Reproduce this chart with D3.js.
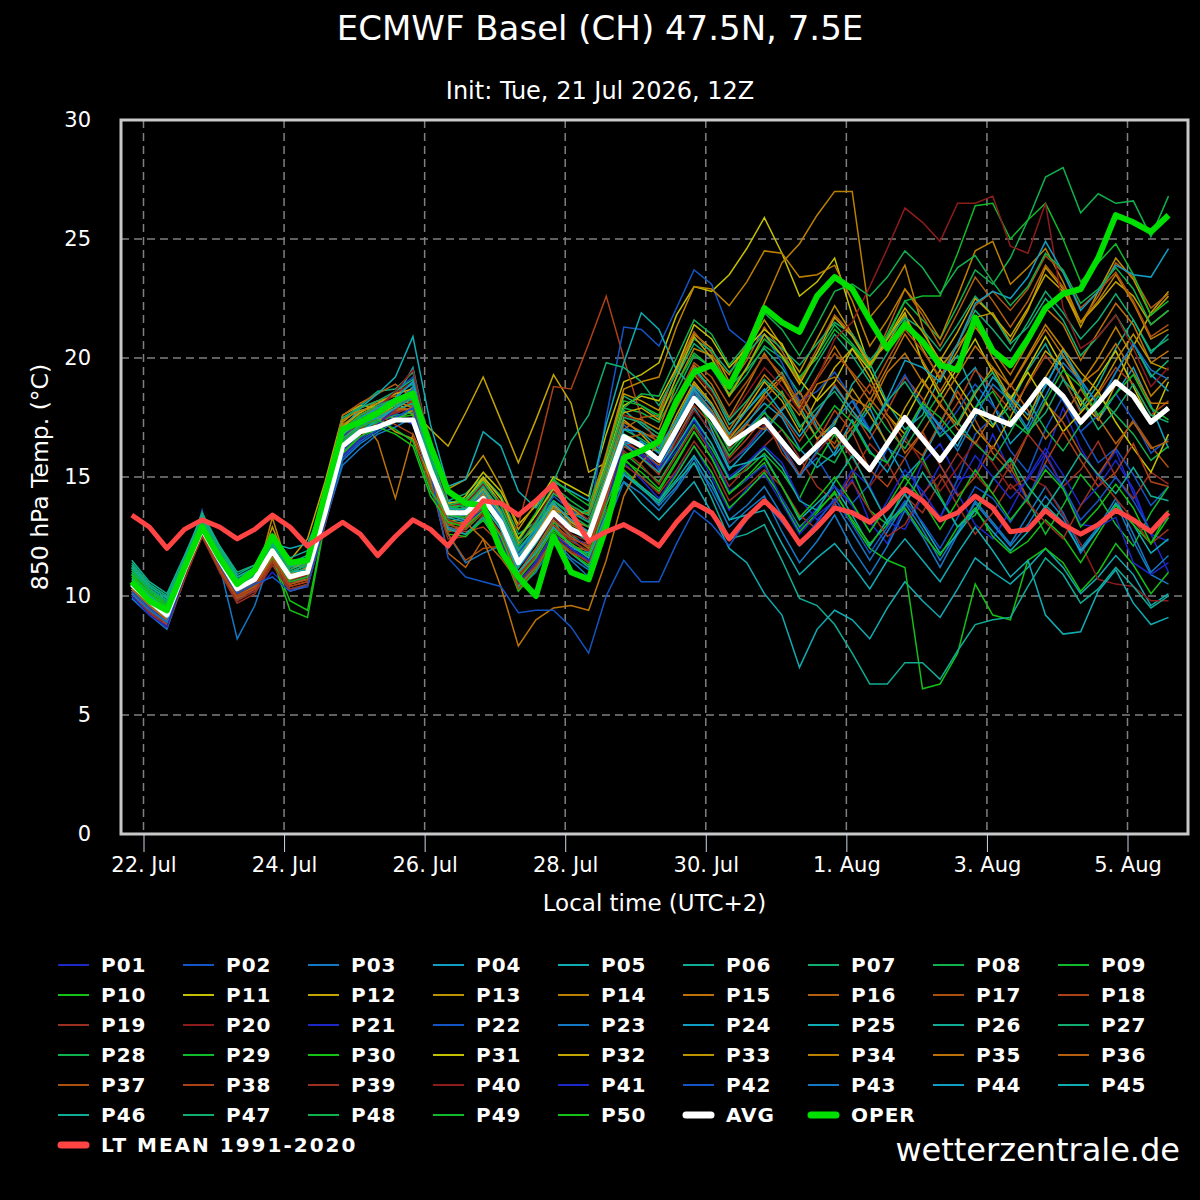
<!DOCTYPE html>
<html>
<head>
<meta charset="utf-8">
<script src="https://cdn.jsdelivr.net/npm/d3@7"></script>
<style>
  body { margin: 0; background: #000; }
  text { font-family: "DejaVu Sans", "Liberation Sans", sans-serif; fill: #fff; }
</style>
</head>
<body>
<div id="chart"></div>
<script>
// Forecast steps: every 6 hours, local time (UTC+2), starting 21 Jul 20:00
const startTime = Date.UTC(2026, 6, 21, 20);
const stepHours = d3.range(0, 360, 6);

// x axis ticks (local days)
const tickDates = [
    Date.UTC(2026, 6, 22), Date.UTC(2026, 6, 24), Date.UTC(2026, 6, 26), Date.UTC(2026, 6, 28),
    Date.UTC(2026, 6, 30), Date.UTC(2026, 7, 1), Date.UTC(2026, 7, 3), Date.UTC(2026, 7, 5)
].map(t => new Date(t));
const yTicks = [0, 5, 10, 15, 20, 25, 30];

// Ensemble mean
const avg = [10.5,9.8,9.2,11.1,12.8,11.5,10.3,10.7,11.9,10.8,
    11.0,13.5,16.3,16.9,17.1,17.4,17.4,15.3,13.5,13.5,
    14.1,13.1,11.4,12.4,13.5,12.8,12.5,14.6,16.7,16.3,
    15.7,17.0,18.3,17.5,16.4,16.9,17.4,16.5,15.6,16.3,
    17.0,16.1,15.3,16.4,17.5,16.6,15.7,16.7,17.8,17.5,
    17.2,18.1,19.1,18.4,17.3,18.1,19.0,18.4,17.3,17.9];

// Operational run
const oper = [10.6,9.8,9.4,11.2,12.9,11.6,10.5,11.1,12.5,11.4,
    11.5,14.3,17.0,17.3,17.7,18.2,18.5,16.3,14.4,13.9,
    13.8,11.9,10.8,10.0,12.5,11.0,10.7,12.9,15.8,16.1,
    16.5,18.2,19.4,19.7,18.8,20.3,22.1,21.5,21.1,22.6,
    23.4,22.9,21.6,20.4,21.4,20.7,19.7,19.5,21.7,20.3,
    19.7,20.8,22.1,22.7,22.9,24.2,26.0,25.7,25.3,26.0];

// Long-term mean 1991-2020
const ltMean = [13.4,12.9,12.0,12.8,13.2,12.9,12.4,12.8,13.4,12.9,
    12.1,12.6,13.1,12.6,11.7,12.5,13.2,12.8,12.1,13.1,
    14.0,13.9,13.4,14.0,14.7,13.5,12.3,12.7,13.0,12.6,
    12.1,13.1,13.9,13.5,12.4,13.3,14.0,13.3,12.2,12.9,
    13.7,13.5,13.1,13.7,14.5,14.0,13.2,13.5,14.2,13.7,
    12.7,12.8,13.6,13.0,12.6,13.0,13.6,13.2,12.7,13.5];

// Ensemble members P01..P50
const members = [
    [10.0,9.3,8.9,10.8,12.6,11.2,10.0,10.2,11.0,10.3,10.4,13.0,15.8,16.5,17.0,17.6,18.2,15.0,12.8,12.6,13.2,12.5,10.8,11.5,12.6,12.0,11.4,13.8,15.6,14.9,14.1,15.2,16.3,15.0,13.6,14.5,15.1,13.9,12.6,13.4,14.0,14.9,13.1,12.2,13.8,15.6,16.4,14.9,15.1,16.8,15.2,14.0,15.9,17.9,16.2,15.0,16.1,14.3,12.6,11.0],
    [10.2,9.5,8.8,10.9,13.6,11.0,9.8,10.4,11.7,10.5,10.8,13.6,16.4,17.2,17.8,18.0,18.4,15.6,13.2,13.0,14.0,13.0,11.2,12.2,13.4,12.4,11.8,14.5,17.2,16.5,15.3,16.8,18.5,17.4,15.6,16.2,17.1,16.4,15.1,15.8,14.6,13.9,14.7,16.2,15.8,14.1,13.3,14.9,16.8,17.5,16.1,15.2,17.0,18.4,16.9,15.6,16.2,15.1,13.8,14.6],
    [9.9,9.2,8.6,10.7,12.9,11.3,8.2,9.6,11.8,10.2,10.5,13.1,15.5,16.2,16.8,17.1,17.5,14.5,12.6,11.4,11.8,12.1,10.5,11.2,12.4,11.6,11.1,13.3,15.2,14.6,13.8,14.6,15.8,14.4,12.9,13.6,14.2,12.7,11.4,12.3,13.4,12.0,10.9,12.1,13.6,12.5,11.2,12.6,14.0,13.1,12.2,13.4,14.6,13.5,12.0,12.9,14.1,12.6,11.0,11.7],
    [10.4,9.7,9.1,11.0,12.6,11.4,10.6,10.9,12.2,11.0,11.3,13.9,16.6,17.4,17.6,18.1,18.8,16.0,13.9,13.7,14.6,13.6,11.9,12.7,13.9,13.1,12.6,14.9,16.8,16.2,15.4,16.6,17.9,16.8,15.3,16.1,16.9,17.8,18.6,17.1,15.9,16.8,17.9,16.3,15.0,15.8,17.2,18.8,19.6,18.1,16.4,17.2,18.9,20.1,19.0,17.4,18.5,19.6,18.0,16.2],
    [11.0,10.3,9.8,11.4,12.9,11.8,10.5,10.8,12.2,11.3,11.2,13.4,16.0,16.8,17.5,18.3,19.6,16.2,13.8,13.4,14.2,13.3,11.7,12.5,13.2,12.0,11.8,13.6,14.8,13.9,13.2,14.0,14.8,13.5,12.0,11.4,10.1,9.2,7.0,8.6,9.4,9.0,8.2,9.5,10.6,9.8,9.1,10.3,11.6,11.0,10.5,11.2,12.0,11.2,10.1,10.8,11.7,10.9,9.6,10.1],
    [11.3,10.4,9.9,11.6,13.3,12.0,10.8,11.2,12.5,11.4,11.7,14.2,17.1,17.8,18.0,18.5,18.9,15.8,13.7,13.9,14.8,13.8,12.2,13.0,14.4,13.6,13.2,15.6,17.8,17.2,16.6,18.1,19.6,18.7,17.2,17.8,18.6,19.4,18.0,16.6,17.2,18.9,19.8,18.1,17.0,17.6,19.2,20.1,18.4,17.2,18.0,19.5,20.6,19.1,17.8,18.9,20.4,21.6,20.2,21.0],
    [11.4,10.5,10.0,11.5,13.5,12.1,11.0,11.3,12.4,11.2,11.4,14.0,17.4,18.0,18.6,18.7,19.4,16.2,14.0,14.3,15.0,14.2,12.6,13.1,14.0,13.4,13.6,15.8,18.4,18.0,17.5,19.2,20.6,20.0,18.8,19.5,20.4,19.6,18.5,19.8,21.0,20.1,19.0,20.2,21.6,20.7,19.5,20.6,22.0,21.2,20.3,21.5,22.8,21.9,20.8,21.6,22.7,21.6,20.3,20.8],
    [11.2,10.2,9.7,11.3,13.1,11.8,10.6,11.0,12.1,11.0,11.3,13.7,16.8,17.4,17.8,18.1,18.3,15.9,13.9,14.1,14.9,13.9,12.3,13.4,14.6,14.0,13.5,15.4,17.9,17.7,17.3,18.6,20.1,19.6,18.4,19.3,20.5,20.0,19.1,20.2,21.4,20.6,19.7,21.0,22.4,21.6,20.8,22.2,23.7,23.1,24.2,25.8,27.6,28.0,26.1,26.9,26.5,26.6,25.1,26.8],
    [10.9,10.0,9.5,11.2,12.9,11.7,10.4,10.6,11.8,10.6,10.9,13.4,16.1,16.7,17.0,17.4,17.9,15.1,13.2,13.0,13.6,12.6,10.9,11.9,13.1,12.6,12.0,14.1,16.0,15.4,14.8,16.0,17.2,16.2,14.9,15.3,16.0,15.2,14.1,15.6,16.8,15.3,13.6,13.0,14.6,15.8,14.2,12.9,13.4,14.9,15.7,14.0,12.6,13.8,15.1,14.2,13.0,12.1,13.5,14.6],
    [11.1,10.3,9.6,11.3,13.0,11.6,10.2,10.5,11.6,9.4,9.1,13.1,15.9,16.6,17.3,17.8,18.1,15.3,13.0,12.8,13.5,12.3,10.4,11.3,12.7,12.2,11.6,13.9,15.8,15.0,14.4,15.6,16.9,15.8,14.3,14.9,15.6,14.0,12.7,13.5,14.4,13.1,12.0,11.5,11.2,6.1,6.3,7.6,10.5,9.2,9.0,11.5,12.0,11.4,10.2,11.0,12.2,11.3,10.1,11.0],
    [10.6,9.9,9.3,11.2,12.9,11.6,10.4,10.9,12.0,10.9,11.2,14.0,17.0,17.6,18.0,18.2,17.6,15.2,13.6,14.2,15.2,14.4,13.0,13.8,15.0,14.6,14.2,16.8,19.0,19.3,19.8,21.8,23.0,22.8,23.5,24.6,25.9,24.4,22.6,23.2,24.2,21.8,19.6,20.8,21.9,19.8,18.4,19.6,20.8,19.4,18.2,19.6,20.9,19.6,18.0,19.2,20.3,18.8,17.3,19.0],
    [10.7,10.0,9.4,11.3,13.0,11.7,10.6,11.0,12.3,11.5,12.4,14.8,17.6,18.0,17.9,17.4,17.8,17.0,16.3,17.7,19.2,17.4,15.6,17.4,19.3,18.1,15.2,15.6,17.4,16.8,16.0,17.6,19.0,18.1,16.8,17.9,19.0,18.2,16.9,18.3,19.6,20.4,19.2,17.6,16.8,18.1,19.5,18.3,17.0,16.2,17.5,19.0,20.3,19.6,18.2,17.4,18.9,20.5,21.9,22.8],
    [10.3,9.6,9.0,10.9,12.6,11.5,10.4,10.8,12.9,11.1,11.5,14.5,17.3,17.9,18.2,18.0,18.6,16.4,14.5,14.9,15.9,14.6,12.8,13.9,14.7,13.7,13.2,15.9,18.5,18.2,17.8,19.5,21.0,20.4,19.0,20.3,21.6,20.5,19.4,20.8,22.2,21.0,19.8,20.6,21.8,20.4,19.1,20.3,21.7,21.9,20.7,22.0,23.8,22.9,21.3,22.8,24.2,23.3,21.8,22.6],
    [10.2,9.5,8.9,10.9,12.8,11.4,10.2,10.6,11.9,10.8,11.1,14.1,17.2,17.7,18.2,18.4,18.0,15.0,12.8,12.9,14.1,13.0,11.2,12.4,13.8,13.2,12.9,15.4,17.6,17.4,17.0,18.9,20.4,20.1,19.3,20.6,22.3,24.0,24.8,26.0,27.0,27.0,21.7,22.6,23.9,21.3,19.6,20.5,21.5,20.0,18.8,20.1,21.4,20.4,18.9,20.0,21.3,20.0,18.4,19.2],
    [10.4,9.7,9.1,11.0,12.7,11.4,10.1,10.5,11.7,10.6,10.8,13.7,16.9,17.5,16.5,14.1,16.8,15.2,13.3,13.4,14.4,13.3,11.5,12.6,13.7,13.0,12.6,15.0,17.3,16.9,16.5,18.0,19.7,18.9,17.5,18.8,20.2,19.1,17.9,19.2,20.5,19.3,18.2,19.6,21.0,19.9,18.6,19.8,21.3,20.3,19.3,20.6,22.1,21.4,19.9,21.1,22.3,21.4,19.8,20.3],
    [10.1,9.4,8.8,10.8,12.6,11.3,10.0,10.5,11.8,10.7,11.0,14.2,17.6,18.1,18.5,18.9,18.3,14.9,11.8,11.2,12.4,11.6,10.6,11.4,12.6,12.1,11.9,14.6,17.0,17.5,17.6,19.6,21.1,20.2,18.8,19.9,21.3,20.3,19.0,20.4,21.8,21.0,19.6,21.2,22.9,21.8,20.5,21.9,23.4,22.4,21.3,22.4,23.9,23.0,21.5,22.6,24.0,23.4,22.1,22.7],
    [10.3,9.6,9.0,10.9,12.5,11.2,9.9,10.3,11.6,10.5,10.7,13.5,16.4,17.0,17.7,18.1,18.0,14.8,12.7,12.9,13.7,12.6,10.9,11.8,13.0,12.4,12.2,14.3,16.5,16.0,15.5,17.0,18.4,17.6,16.2,17.2,18.3,19.1,18.2,17.0,16.4,17.8,18.9,17.6,16.5,15.9,17.3,18.6,17.4,16.0,15.2,16.8,18.1,17.3,16.0,15.1,16.2,17.4,16.3,15.4],
    [10.1,9.4,8.9,10.8,12.7,11.3,10.1,10.4,11.6,10.4,10.6,13.3,16.2,16.9,17.4,17.7,18.2,15.0,12.9,12.7,12.9,12.2,13.0,15.8,18.8,18.7,20.6,22.6,20.0,17.5,16.3,17.4,18.9,18.0,16.7,17.5,18.4,17.6,16.5,17.6,18.9,17.8,16.6,17.8,19.2,18.3,17.0,18.1,19.5,18.7,17.8,18.9,20.1,19.2,17.7,18.5,19.6,18.9,17.6,18.2],
    [10.0,9.3,8.7,10.7,12.6,11.1,9.8,10.2,11.4,10.3,10.5,13.2,16.0,16.7,17.3,17.7,17.9,14.6,12.4,12.5,13.4,12.4,10.7,11.6,12.9,12.3,11.9,14.0,16.1,15.5,14.7,15.9,17.1,16.0,14.6,15.4,16.3,17.0,15.8,14.6,14.0,15.1,16.4,15.6,14.2,13.5,14.8,16.0,15.1,14.3,15.5,16.8,15.9,14.6,15.3,16.5,15.0,14.1,15.2,14.7],
    [10.2,9.5,9.0,10.9,12.7,11.3,10.0,10.4,11.7,10.6,10.9,13.6,16.6,17.3,17.9,18.5,19.0,15.7,13.4,13.3,14.1,13.1,11.4,12.2,13.3,12.6,12.3,14.6,16.6,16.0,15.2,16.4,17.8,16.9,15.6,16.3,17.2,16.3,15.1,16.0,16.9,15.8,14.6,15.6,16.7,15.6,14.4,15.4,16.5,15.6,14.5,15.0,14.6,13.4,12.2,10.7,10.5,10.4,9.8,9.8],
    [10.1,9.4,8.8,10.9,12.8,11.4,10.2,10.6,11.8,10.7,10.9,13.3,16.1,16.9,17.5,17.6,17.2,15.0,13.1,13.0,13.8,12.8,11.2,12.0,13.2,12.5,12.1,14.2,16.3,15.9,15.2,16.1,17.4,16.4,15.0,15.6,16.3,15.6,14.1,13.2,14.0,15.3,14.6,13.1,12.8,14.2,15.5,14.3,13.0,12.4,13.6,15.0,16.2,15.1,13.8,14.6,15.7,14.5,12.6,12.3],
    [10.3,9.6,9.0,11.0,12.9,11.6,10.4,10.8,12.0,10.9,11.2,13.8,16.7,17.5,18.0,18.6,19.2,16.0,13.6,13.5,14.3,13.4,11.8,12.9,14.2,13.6,13.1,17.5,21.3,21.2,20.5,22.1,23.7,23.1,21.2,20.6,21.0,19.8,18.2,18.6,19.4,18.3,17.0,18.1,19.3,18.0,16.8,17.8,18.9,18.0,17.1,18.0,19.1,18.2,16.9,17.6,18.5,17.4,16.0,16.6],
    [10.0,9.2,8.7,10.8,12.9,11.4,10.3,10.6,11.9,10.6,10.7,13.0,15.7,16.4,16.9,17.3,18.0,15.1,12.9,12.6,13.2,12.1,10.3,11.0,12.2,11.5,10.8,12.9,14.8,14.3,13.6,14.5,15.6,14.6,13.2,13.8,14.6,13.4,12.1,12.8,13.9,12.7,11.5,12.7,13.9,12.8,11.5,12.7,13.9,13.0,12.1,13.0,14.2,13.3,11.8,12.8,13.9,12.3,10.9,10.5],
    [10.5,9.8,9.2,11.1,12.7,11.5,10.5,10.9,12.1,11.0,11.1,13.7,16.5,17.2,17.7,18.3,19.0,16.1,14.0,13.8,14.5,13.5,12.0,12.8,13.8,12.9,12.4,14.3,16.4,16.5,16.0,17.4,18.7,17.8,16.5,17.3,18.1,17.5,16.2,15.4,16.0,17.4,16.1,15.2,16.6,18.0,17.1,16.3,17.9,19.2,18.4,17.6,18.8,20.3,19.1,18.0,19.4,20.6,19.3,18.6],
    [10.8,10.1,9.6,11.3,13.0,11.7,10.4,10.8,12.2,12.0,12.2,13.9,17.0,17.9,18.5,19.2,20.9,17.2,14.6,14.9,16.9,16.3,14.4,13.7,14.8,14.4,14.0,17.2,19.8,21.9,21.2,19.5,18.7,17.0,15.4,15.6,15.9,14.6,13.2,13.9,14.6,13.4,12.1,13.2,14.3,13.0,11.8,12.6,13.6,12.7,11.9,12.7,13.8,13.1,11.9,12.8,13.9,13.0,11.8,12.4],
    [11.5,10.6,10.1,11.7,13.4,12.1,10.9,11.3,12.6,11.6,11.9,14.1,16.8,17.4,17.6,17.8,18.1,15.0,12.8,12.6,13.3,12.2,10.4,11.2,12.5,11.8,11.2,13.3,15.1,14.5,13.9,14.8,15.6,14.1,12.4,12.6,13.0,11.5,9.9,9.6,8.8,7.6,6.3,6.3,7.2,7.2,6.5,7.7,8.8,9.0,9.1,10.4,11.6,10.9,9.7,10.3,11.2,10.4,9.5,10.0],
    [11.2,10.3,9.8,11.4,13.2,11.9,10.7,11.1,12.3,11.2,11.5,14.3,17.5,17.9,18.2,18.6,19.1,16.0,13.8,13.6,14.5,13.4,11.6,12.4,14.8,16.5,17.6,19.8,19.6,19.0,18.0,19.4,20.8,20.3,19.4,20.2,21.0,20.4,19.7,20.6,21.5,21.0,19.9,20.8,21.7,21.2,20.3,21.4,22.6,21.8,20.6,21.3,22.5,21.6,20.1,20.9,21.8,20.6,19.2,19.9],
    [11.0,10.2,9.6,11.3,13.0,11.7,10.5,10.9,12.0,10.9,11.2,13.8,16.4,17.0,17.3,17.6,17.7,15.4,13.5,13.4,14.2,13.2,11.5,12.7,14.0,13.4,12.9,15.0,17.0,16.6,16.1,17.3,18.6,17.6,16.1,16.9,17.8,18.6,17.2,16.0,15.6,16.9,18.1,17.0,16.2,17.4,18.5,17.3,16.4,15.7,16.9,18.2,17.0,16.1,17.2,18.4,17.6,16.8,15.7,16.3],
    [10.9,10.1,9.5,11.2,12.9,11.6,10.5,10.8,12.0,10.9,11.1,13.9,16.9,17.6,17.9,18.2,18.3,15.6,13.7,13.8,14.7,13.9,12.4,13.5,14.9,14.3,13.8,15.9,18.2,18.0,17.6,18.9,20.2,19.6,18.5,19.6,20.8,20.1,19.2,20.0,21.2,20.5,19.6,20.9,22.4,22.6,22.6,24.4,26.4,26.5,25.0,25.8,26.5,25.0,23.2,24.0,24.8,23.5,21.8,22.4],
    [10.8,10.0,9.4,11.1,12.8,11.5,10.2,10.5,11.6,9.8,9.4,13.2,16.0,16.6,17.1,17.5,17.6,14.8,12.6,12.5,13.2,12.1,10.2,11.1,12.4,11.8,11.3,13.4,15.3,14.6,14.0,15.1,16.3,15.2,13.7,14.4,15.2,14.1,12.9,13.6,14.3,13.2,12.2,13.0,13.7,12.6,11.7,12.9,13.7,12.5,11.8,12.3,13.2,12.5,11.4,12.6,13.8,13.0,12.2,13.6],
    [10.6,9.9,9.3,11.1,12.7,11.5,10.3,10.8,12.0,10.8,11.0,13.6,16.8,17.4,17.6,18.0,18.5,15.8,13.9,14.0,15.0,14.1,12.4,13.4,14.5,13.7,13.4,15.6,18.0,18.4,18.2,19.6,21.4,20.8,19.6,20.4,21.2,20.6,19.1,18.2,19.0,20.4,19.5,18.0,17.4,18.8,20.0,18.9,17.8,17.1,18.3,19.4,18.2,16.9,17.7,18.6,17.3,16.2,15.2,16.8],
    [10.4,9.7,9.2,11.1,12.9,11.6,10.4,10.7,11.9,10.7,11.0,14.0,17.1,17.7,18.1,18.5,18.7,15.9,13.8,13.9,14.9,13.9,12.2,12.9,13.9,13.1,12.7,15.0,17.7,17.9,17.4,19.2,20.9,20.0,18.4,19.6,21.0,20.1,18.9,20.2,21.7,20.9,19.7,20.8,22.1,21.1,19.9,21.1,22.5,21.8,20.9,22.1,23.5,22.8,21.5,22.3,23.2,22.6,21.4,22.0],
    [10.3,9.6,9.1,11.0,12.8,11.4,10.3,10.7,12.0,10.8,11.2,13.9,16.6,17.2,17.5,16.9,16.6,14.9,13.6,13.7,14.5,13.5,11.7,12.6,13.8,13.2,12.6,14.7,16.7,16.3,15.8,17.4,18.9,18.0,16.6,17.5,18.5,19.2,17.8,16.6,17.3,18.7,17.6,16.4,17.9,19.1,18.0,17.2,18.5,19.6,18.3,17.4,19.2,20.4,19.4,18.6,19.9,21.0,19.8,19.5],
    [10.2,9.6,9.0,10.9,12.7,11.3,10.1,10.5,13.3,10.9,11.4,14.4,17.4,17.8,17.9,18.2,17.9,15.1,13.1,13.3,14.3,13.2,11.5,12.5,13.6,13.4,13.5,16.0,18.7,19.0,19.2,21.3,23.0,22.9,22.2,23.2,24.5,24.4,23.4,23.5,23.9,22.4,20.5,21.6,22.9,22.0,20.8,22.6,24.5,24.9,23.1,23.8,24.6,23.2,21.5,22.4,23.5,22.3,20.8,21.2],
    [10.4,9.7,9.2,11.0,12.6,11.3,10.2,10.6,11.8,10.7,10.9,13.8,16.9,17.4,17.6,17.9,17.8,15.0,13.0,13.1,12.4,10.4,7.9,9.0,9.5,9.6,9.4,11.5,14.2,15.6,16.4,17.9,19.3,18.4,17.0,18.1,19.3,18.5,17.6,18.9,19.2,18.3,17.9,19.4,20.2,19.0,18.1,19.3,20.5,19.6,18.8,20.0,21.2,20.1,18.9,19.5,20.6,19.4,18.1,18.1],
    [10.3,9.6,9.0,10.9,12.6,11.2,10.0,10.4,11.7,10.5,10.7,13.5,16.6,17.2,17.4,17.8,17.9,15.2,13.1,13.0,13.8,12.8,11.0,12.0,13.2,12.5,12.0,14.2,16.4,16.1,15.8,17.1,18.6,17.8,16.5,17.2,17.0,17.9,18.6,17.3,16.2,17.1,18.3,17.4,16.0,16.9,18.1,17.0,16.4,17.6,18.9,17.8,16.6,17.5,18.7,17.5,16.4,17.3,16.2,16.5],
    [10.2,9.5,8.9,10.8,12.5,11.1,9.9,10.3,11.5,10.5,10.8,13.8,17.0,17.6,17.9,18.2,18.2,14.9,12.6,11.5,12.0,12.1,10.3,11.2,12.3,11.8,11.5,14.0,16.6,16.8,16.7,18.3,19.8,19.2,18.0,19.0,20.1,19.3,18.1,19.1,20.2,19.4,18.5,19.9,21.2,20.3,19.2,20.6,22.2,22.8,22.0,22.9,24.3,23.6,22.1,22.8,23.6,22.4,20.9,21.4],
    [10.1,9.4,8.8,10.8,12.6,11.2,10.0,10.3,11.5,10.4,10.6,13.4,16.3,17.0,17.6,17.2,16.8,14.6,13.0,12.8,13.6,12.6,10.8,11.7,12.9,12.4,12.1,14.2,16.3,15.8,15.1,16.6,18.0,17.2,15.8,16.6,17.5,16.0,15.1,16.5,17.8,16.9,15.3,14.6,15.8,16.9,15.5,14.2,15.0,16.3,15.4,14.1,15.6,16.9,15.7,14.6,15.2,16.4,14.8,14.6],
    [10.0,9.3,8.7,10.7,12.5,11.0,9.7,10.1,11.3,10.2,10.4,13.0,15.9,16.6,17.2,17.8,18.5,15.5,13.2,12.9,13.5,12.3,10.5,11.3,12.5,11.9,11.4,13.5,15.5,15.0,14.3,15.3,16.5,15.5,14.0,14.6,15.3,14.6,13.4,12.8,13.9,14.8,13.6,12.5,13.0,14.3,15.1,13.8,12.6,13.5,14.7,13.9,13.1,12.4,13.8,15.0,14.1,13.2,12.2,12.8],
    [10.1,9.4,8.9,10.8,12.7,11.3,10.1,10.5,11.8,10.6,10.9,13.6,16.5,17.3,17.9,18.6,19.5,16.2,13.8,13.9,14.7,13.9,12.1,13.2,14.4,13.8,13.2,15.2,17.6,17.3,16.8,18.0,19.4,18.6,17.4,18.5,19.6,18.8,17.8,19.1,20.8,21.5,23.0,24.6,26.3,25.7,24.9,26.5,26.5,26.8,24.7,24.4,26.5,22.1,20.4,20.9,21.8,20.4,18.8,19.6],
    [10.0,9.2,8.7,10.9,12.9,11.5,10.2,10.6,11.8,10.6,10.8,13.2,15.9,16.6,17.2,17.9,18.6,15.8,13.5,13.1,13.6,12.4,10.6,11.4,12.6,12.0,11.5,13.8,16.4,16.0,15.4,16.3,17.4,16.0,14.4,14.9,15.5,14.1,12.8,13.7,14.6,13.8,12.7,14.0,15.3,14.4,13.3,14.6,15.9,15.0,14.1,14.9,16.0,14.6,13.0,12.9,13.3,11.4,10.9,11.4],
    [10.2,9.5,8.9,11.0,12.8,11.3,10.1,10.5,10.8,10.2,10.4,13.1,15.8,16.5,17.0,17.5,17.9,15.2,11.6,10.8,10.6,10.4,9.3,9.4,9.4,8.7,7.6,10.0,11.5,10.6,10.6,12.2,13.6,13.0,12.1,13.2,14.0,13.1,12.2,13.1,14.1,13.0,11.8,12.9,14.0,13.1,12.0,13.3,14.6,14.1,13.1,14.2,15.5,14.6,13.2,14.0,15.0,14.0,12.7,13.3],
    [10.1,9.4,8.9,10.9,12.8,11.5,10.3,10.6,11.9,10.8,11.0,13.5,16.4,17.1,17.6,18.1,18.7,15.7,13.4,13.4,14.2,13.3,11.6,12.4,13.5,12.8,12.3,14.4,16.5,16.4,15.8,17.2,18.6,17.7,16.3,17.0,17.8,16.2,15.0,16.1,17.4,18.2,16.9,15.6,16.8,18.0,17.2,16.1,17.5,18.9,18.2,17.0,18.4,19.8,19.0,18.1,19.4,20.6,19.5,19.1],
    [10.4,9.7,9.1,11.1,12.9,11.6,10.4,10.8,12.1,11.0,11.3,13.8,16.8,17.5,17.9,18.3,19.0,16.0,13.7,13.6,14.4,13.4,11.7,12.7,13.9,13.2,12.7,14.9,17.0,16.9,16.2,17.4,18.8,18.0,16.8,17.8,18.7,17.7,16.7,17.7,18.8,17.8,16.9,18.3,19.9,19.6,19.0,20.6,22.3,22.8,22.5,23.4,24.9,23.6,22.0,22.8,23.9,23.5,23.4,24.6],
    [10.7,10.0,9.5,11.2,12.9,11.6,10.5,10.9,12.1,11.0,11.1,13.6,16.3,16.9,17.4,17.9,18.6,15.6,13.3,13.1,13.8,12.8,11.0,11.8,12.9,12.1,11.6,13.4,15.1,14.6,14.0,14.9,15.9,14.8,13.2,13.4,13.6,12.2,10.9,11.6,12.2,11.3,10.3,11.5,12.4,11.5,10.6,11.8,12.9,11.9,10.8,11.5,9.2,8.4,8.5,10.2,11.1,9.7,8.8,9.1],
    [11.2,10.4,9.9,11.5,13.2,12.0,10.8,11.1,12.4,11.3,11.5,13.9,16.6,17.2,17.5,17.9,18.3,15.4,13.4,13.2,14.0,12.9,11.2,12.2,13.4,12.8,12.3,14.5,16.4,15.8,15.2,16.3,17.5,16.4,14.9,15.5,16.2,15.4,14.0,13.6,14.8,15.9,14.5,13.1,13.8,15.2,14.1,12.9,13.6,14.9,15.8,14.6,13.7,14.8,16.0,15.1,14.3,15.4,14.2,14.0],
    [11.3,10.5,10.0,11.5,13.3,12.0,10.7,11.0,12.3,11.1,11.4,14.0,16.9,17.5,17.8,18.0,18.4,15.6,13.6,13.7,14.6,13.6,11.9,12.9,14.0,13.5,13.1,15.2,17.5,17.3,16.8,18.2,19.5,18.7,17.4,18.2,19.1,18.4,17.1,17.9,18.6,17.6,16.9,18.2,19.0,17.9,16.7,17.3,18.6,19.4,18.0,16.9,17.7,19.1,18.3,17.0,17.8,18.9,17.6,17.3],
    [11.1,10.3,9.7,11.3,13.1,11.8,10.6,10.9,12.1,11.0,11.3,14.0,17.0,17.6,18.0,18.3,18.6,15.8,13.8,14.0,14.8,13.8,12.1,13.1,14.3,13.8,13.4,15.5,17.9,18.5,18.4,20.0,21.6,21.0,19.7,20.6,21.9,21.2,20.1,21.4,22.8,23.1,22.6,23.4,24.5,23.8,22.7,23.8,24.3,23.2,22.2,23.0,24.4,23.7,22.3,22.9,23.8,22.9,21.4,22.0],
    [10.9,10.1,9.5,11.2,12.9,11.6,10.4,10.8,12.0,10.8,11.0,13.6,16.5,17.1,17.4,17.0,16.5,14.4,13.4,13.3,14.1,13.0,11.3,12.3,13.5,12.9,12.4,14.6,16.8,16.4,15.7,17.0,18.3,17.2,15.9,16.8,17.7,17.0,16.1,16.9,18.0,17.3,16.0,15.6,16.8,18.1,17.5,16.6,17.9,18.6,17.4,16.8,18.2,19.5,18.8,17.6,18.5,19.3,17.9,17.4],
    [10.9,10.1,9.6,11.2,12.9,11.6,10.3,10.7,11.8,10.6,10.8,13.3,16.0,16.7,17.1,16.8,16.3,14.2,13.1,12.9,13.6,12.5,10.7,11.6,12.8,12.2,11.7,13.8,15.7,15.2,14.5,15.7,16.9,15.8,14.3,15.0,15.8,14.6,13.3,14.1,15.0,13.9,12.7,13.8,15.0,14.0,12.8,14.0,15.3,14.3,13.2,14.1,15.3,14.5,12.9,13.7,14.7,13.7,12.2,13.3]
];

// Member colour cycle (20 colours, repeats for P21-P40 and P41-P50)
const palette = ['#1c28c8', '#1454c4', '#1478c4', '#109ec4', '#10acb4', '#10ac94', '#10ac70', '#10b04c', '#10b82c', '#14c014',
    '#c4c000', '#c4a400', '#bc9400', '#bc8000', '#bc7208', '#b46010', '#ac5010', '#ac4018', '#9c3020', '#8c1c1c'];

const memberNames = members.map((m, i) => 'P' + d3.format('02')(i + 1));

// Chart geometry
const width = 1200, height = 1200;
const plot = { left: 121, right: 1188, top: 120, bottom: 834 };

const svg = d3.select('#chart').append('svg')
    .attr('width', width)
    .attr('height', height);

svg.append('rect').attr('width', width).attr('height', height).attr('fill', '#000');

// Scales: 22 Jul 00:00 sits at x=143.5, 5 Aug 00:00 at x=1127.5
const x = d3.scaleUtc()
    .domain([tickDates[0], tickDates[tickDates.length - 1]])
    .range([143.5, 1127.5]);
x.domain([x.invert(plot.left), x.invert(plot.right)]).range([plot.left, plot.right]);

const y = d3.scaleLinear().domain([0, 30]).range([plot.bottom, plot.top]);

const times = stepHours.map(h => new Date(startTime + h * 3600 * 1000));

// Titles
svg.append('text').attr('x', 600).attr('y', 40).attr('text-anchor', 'middle')
    .style('font-size', '34px').text('ECMWF Basel (CH) 47.5N, 7.5E');
svg.append('text').attr('x', 600).attr('y', 99).attr('text-anchor', 'middle')
    .style('font-size', '24px').text('Init: Tue, 21 Jul 2026, 12Z');

// Grid lines
const grid = svg.append('g').attr('stroke', '#808080').attr('stroke-width', 1.5).attr('stroke-dasharray', '8,5');
grid.selectAll('.hgrid').data(yTicks.filter(v => v > 0 && v < 30)).enter().append('line')
    .attr('x1', plot.left).attr('x2', plot.right)
    .attr('y1', d => y(d)).attr('y2', d => y(d));
grid.selectAll('.vgrid').data(tickDates).enter().append('line')
    .attr('x1', d => x(d)).attr('x2', d => x(d))
    .attr('y1', plot.top).attr('y2', plot.bottom);

// Clip lines to the plot area
svg.append('clipPath').attr('id', 'clip').append('rect')
    .attr('x', plot.left).attr('y', plot.top)
    .attr('width', plot.right - plot.left).attr('height', plot.bottom - plot.top);

const line = d3.line()
    .x((d, i) => x(times[i]))
    .y(d => y(d));

const series = svg.append('g').attr('clip-path', 'url(#clip)').attr('fill', 'none');

// Members
series.selectAll('.member').data(members).enter().append('path')
    .attr('class', 'member')
    .attr('d', line)
    .attr('stroke', (d, i) => palette[i % 20])
    .attr('stroke-width', 1.5);

// Mean, operational and long-term mean
series.append('path').attr('d', line(avg)).attr('stroke', '#ffffff').attr('stroke-width', 5).attr('stroke-linejoin', 'round');
series.append('path').attr('d', line(oper)).attr('stroke', '#00e000').attr('stroke-width', 6).attr('stroke-linejoin', 'round');
series.append('path').attr('d', line(ltMean)).attr('stroke', '#ff4444').attr('stroke-width', 5).attr('stroke-linejoin', 'round');

// Plot border
svg.append('rect')
    .attr('x', plot.left).attr('y', plot.top)
    .attr('width', plot.right - plot.left).attr('height', plot.bottom - plot.top)
    .attr('fill', 'none').attr('stroke', '#c8c8c8').attr('stroke-width', 3);

// x axis
const xAxis = svg.append('g')
    .attr('transform', `translate(0,${plot.bottom})`)
    .call(d3.axisBottom(x).tickValues(tickDates).tickFormat(d3.utcFormat('%-d. %b')).tickSize(18).tickPadding(5));
xAxis.select('.domain').remove();
xAxis.selectAll('line').attr('stroke', '#ccd6eb');
xAxis.selectAll('text').attr('fill', '#fff').style('font-size', '21px').style('font-family', '"DejaVu Sans", sans-serif');

// y axis
const yAxis = svg.append('g')
    .attr('transform', `translate(${plot.left},0)`)
    .call(d3.axisLeft(y).tickValues(yTicks).tickSize(0).tickPadding(30));
yAxis.select('.domain').remove();
yAxis.selectAll('text').attr('fill', '#fff').style('font-size', '21px').style('font-family', '"DejaVu Sans", sans-serif');

// Axis titles
svg.append('text').attr('x', (plot.left + plot.right) / 2).attr('y', 911).attr('text-anchor', 'middle')
    .style('font-size', '23px').text('Local time (UTC+2)');
svg.append('text').attr('transform', `translate(48,${(plot.top + plot.bottom) / 2}) rotate(-90)`)
    .attr('text-anchor', 'middle').style('font-size', '23.5px').text('850 hPa Temp. (°C)');

// Legend
const legendItems = memberNames.map((name, i) => ({ name: name, color: palette[i % 20], thick: false }));
legendItems.push({ name: 'AVG', color: '#ffffff', thick: true });
legendItems.push({ name: 'OPER', color: '#00e000', thick: true });

const legend = svg.append('g');
legendItems.forEach((item, i) => {
    const lx = 58 + (i % 9) * 125;
    const ly = 965 + Math.floor(i / 9) * 30;
    addLegendItem(item, lx, ly, 1);
});
// LT MEAN wraps to its own row
addLegendItem({ name: 'LT MEAN 1991-2020', color: '#ff4444', thick: true }, 58, 965 + 6 * 30, 2);

function addLegendItem(item, lx, ly, spacing) {
    legend.append('line')
        .attr('x1', item.thick ? lx + 3 : lx).attr('x2', item.thick ? lx + 28 : lx + 31)
        .attr('y1', ly).attr('y2', ly)
        .attr('stroke', item.color)
        .attr('stroke-width', item.thick ? 7 : 2)
        .attr('stroke-linecap', item.thick ? 'round' : 'butt');
    legend.append('text')
        .attr('x', lx + 43).attr('y', ly + 7)
        .style('font-size', '20px').style('font-weight', 'bold')
        .style('letter-spacing', spacing + 'px')
        .text(item.name);
}

// Watermark
svg.append('text').attr('x', 1180).attr('y', 1161).attr('text-anchor', 'end')
    .style('font-size', '32px').text('wetterzentrale.de');
</script>
</body>
</html>
